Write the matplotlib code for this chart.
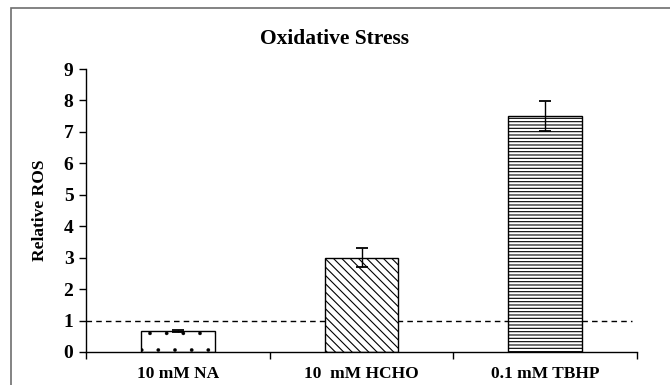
import numpy as np
import matplotlib
matplotlib.use('Agg')
import matplotlib.pyplot as plt
from matplotlib.patches import Rectangle

# data
groups = ['10 mM NA', '10  mM HCHO', '0.1 mM TBHP']
ros = [0.67, 3.0, 7.5]
ros_err = [0.02, 0.3, 0.47]
hatches = ['.', '\\\\\\\\', '-----']
hatch_lw = [0.2, 0.8, 0.8]
baseline = 1.0

plt.rcParams['font.family'] = ['Liberation Serif', 'DejaVu Serif']
plt.rcParams['font.weight'] = 'bold'

fig = plt.figure(figsize=(6.7, 3.85), dpi=100)
ax = fig.add_axes([86/670, 1 - 352/385, (637-86)/670, (352-69)/385])

# outer frame of the picture
fig.patches.append(Rectangle((11/670, -0.05), 1.0, 1 - 8/385 + 0.05,
                             transform=fig.transFigure, fill=False,
                             edgecolor='#6e6e6e', linewidth=1.2))

x = np.arange(len(groups)) + 0.5
ax.axhline(baseline, xmin=0, xmax=(632-86)/(637-86), color='black',
           linestyle=(0, (4, 3)), linewidth=1.0, zorder=1)
for i in range(len(groups)):
    with plt.rc_context({'hatch.linewidth': hatch_lw[i]}):
        ax.bar(x[i], ros[i], width=0.4, color='white', edgecolor='black',
               hatch=hatches[i], linewidth=1.0, zorder=2)
ax.errorbar(x, ros, yerr=ros_err, fmt='none', ecolor='black',
            elinewidth=1.0, capsize=4, capthick=1.3, zorder=3)

ax.set_xlim(0, 3)
ax.set_ylim(0, 9)
ax.set_yticks(range(10))
ax.set_xticks([0, 1, 2, 3], minor=False)
ax.set_xticklabels(['', '', '', ''])
ax.set_xticks(x, minor=True)
ax.set_xticklabels(groups, minor=True, fontsize=12.5, fontweight='bold')
ax.tick_params(axis='x', which='minor', length=0, pad=10)
ax.tick_params(axis='x', which='major', length=5, width=1.0, direction='out')
ax.tick_params(axis='y', length=5, width=1.0, direction='out', labelsize=14, pad=4)
for lab in ax.get_yticklabels():
    lab.set_fontweight('bold')

ax.spines['top'].set_visible(False)
ax.spines['right'].set_visible(False)
ax.spines['left'].set_linewidth(1.0)
ax.spines['bottom'].set_linewidth(1.0)

ax.set_ylabel('Relative ROS', fontsize=12.5, fontweight='bold', labelpad=11)
fig.text(334/670, 1 - 39/385, 'Oxidative Stress', ha='center', va='center',
         fontsize=15.5, fontweight='bold')

fig.savefig('out.png', dpi=100)
